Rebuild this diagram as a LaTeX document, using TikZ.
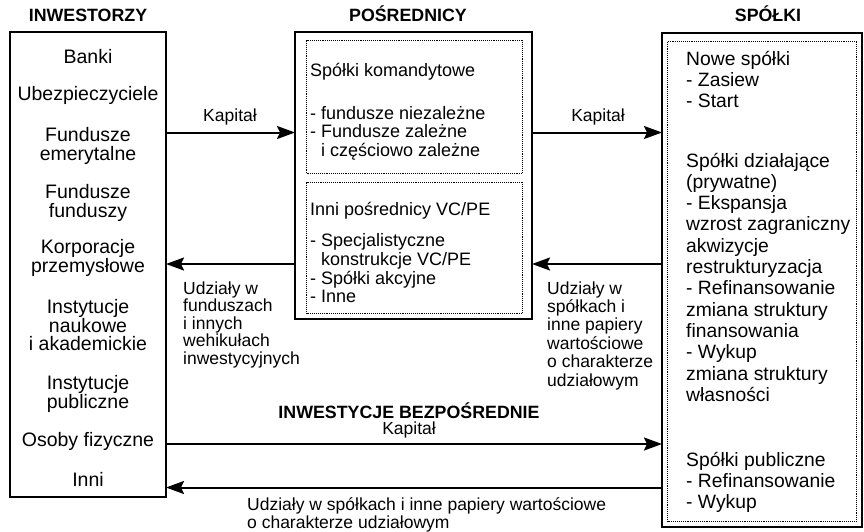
\documentclass[tikz,border=0pt]{standalone}
\usepackage{fontspec}
\setmainfont{Liberation Sans}
\usetikzlibrary{arrows.meta}
\begin{document}
\begin{tikzpicture}[x=1pt,y=-1pt,
  box/.style={draw,line width=2.4pt,inner sep=0pt,outer sep=0pt},
  dbox/.style={draw,densely dotted,line width=0.9pt,inner sep=0pt,outer sep=0pt},
  ltx/.style={font=\fontsize{19.5}{18.5}\selectfont,inner sep=0pt,align=center,anchor=base},
  mtx/.style={font=\fontsize{18}{18.8}\selectfont,inner sep=0pt,align=left,anchor=base west},
  rtx/.style={font=\fontsize{19.3}{21.3}\selectfont,inner sep=0pt,align=left,anchor=base west},
  lab/.style={font=\fontsize{17.5}{17.5}\selectfont,inner sep=0pt,align=left,anchor=base west},
  head/.style={font=\fontsize{17.8}{20}\selectfont\bfseries,inner sep=0pt,anchor=base},
  arr/.style={line width=2pt,-{Stealth[length=18pt,width=13pt,inset=3pt]}},
  ln/.style={line width=2pt}]
\useasboundingbox (0,0) rectangle (864,531);

% headers
\node[head] (h1) at (88,21) {INWESTORZY};
\node[head] (h2) at (408,21) {POŚREDNICY};
\node[head] (h3) at (768,21) {SPÓŁKI};

% boxes
\node[box,minimum width=156pt,minimum height=465pt] (inw) at (88,264.5) {};
\node[box,minimum width=237pt,minimum height=287pt] (pos) at (413.5,175.5) {};
\node[dbox,minimum width=216pt,minimum height=133pt] (pd1) at (414.5,106.5) {};
\node[dbox,minimum width=216pt,minimum height=131pt] (pd2) at (414.5,247.5) {};
\node[box,minimum width=200pt,minimum height=494pt] (spo) at (762,280) {};
\node[dbox,minimum width=189pt,minimum height=480pt] (sd) at (762,281) {};

% left box texts (base = last line)
\node[ltx] (l1) at (88,63.5) {Banki};
\node[ltx] (l2) at (88,100.5) {Ubezpieczyciele};
\node[ltx] (l3) at (88,160) {Fundusze\\emerytalne};
\node[ltx] (l4) at (88,217) {Fundusze\\funduszy};
\node[ltx] (l5) at (88,272) {Korporacje\\przemysłowe};
\node[ltx] (l6) at (88,350.5) {Instytucje\\naukowe\\i akademickie};
\node[ltx] (l7) at (88,408) {Instytucje\\publiczne};
\node[ltx] (l8) at (88,446.5) {Osoby fizyczne};
\node[ltx] (l9) at (88,486.5) {Inni};

% middle texts
\node[mtx] (m1) at (310,76) {Spółki komandytowe};
\node[mtx] (m2) at (310,156.6) {- fundusze niezależne\\- Fundusze zależne\\\hphantom{- }i częściowo zależne};
\node[mtx] (m3) at (310,215) {Inni pośrednicy VC/PE};
\node[mtx] (m4) at (310,302.9) {- Specjalistyczne\\\hphantom{- }konstrukcje VC/PE\\- Spółki akcyjne\\- Inne};

% right texts
\node[rtx] (r1) at (686,107.6) {Nowe spółki\\- Zasiew\\- Start};
\node[rtx] (r2) at (686,401.3) {Spółki działające\\(prywatne)\\- Ekspansja\\wzrost zagraniczny\\akwizycje\\restrukturyzacja\\- Refinansowanie\\zmiana struktury\\finansowania\\- Wykup\\zmiana struktury\\własności};
\node[rtx] (r3) at (686,508.6) {Spółki publiczne\\- Refinansowanie\\- Wykup};

% level coordinates
\coordinate (ya) at (0,132.5);
\coordinate (yb) at (0,264);
\coordinate (yc) at (0,444);
\coordinate (yd) at (0,487.5);

% connectors
\draw[arr] (inw.east |- ya) -- (pos.west |- ya);
\draw[arr] (pos.east |- ya) -- (spo.west |- ya);
\draw[arr] (pos.west |- yb) -- (inw.east |- yb);
\draw[arr] (spo.west |- yb) -- (pos.east |- yb);
\draw[arr] (inw.east |- yc) -- (spo.west |- yc);
\draw[arr] (spo.west |- yd) -- (inw.east |- yd);

% labels
\node[lab,anchor=base] (k1) at (230,121) {Kapitał};
\node[lab,anchor=base] (k2) at (598,121) {Kapitał};
\node[lab] (u1) at (183,364) {Udziały w\\funduszach\\i innych\\wehikułach\\inwestycyjnych};
\node[lab,font=\fontsize{17.5}{18.4}\selectfont] (u2) at (547,386) {Udziały w\\spółkach i\\inne papiery\\wartościowe\\o charakterze\\udziałowym};
\node[head] (ib) at (409,418) {INWESTYCJE BEZPOŚREDNIE};
\node[lab,anchor=base] (k3) at (409,434) {Kapitał};
\node[lab,font=\fontsize{17.5}{14}\selectfont] (u3) at (247,528) {Udziały w spółkach i inne papiery wartościowe\\o charakterze udziałowym};
\end{tikzpicture}
\end{document}
